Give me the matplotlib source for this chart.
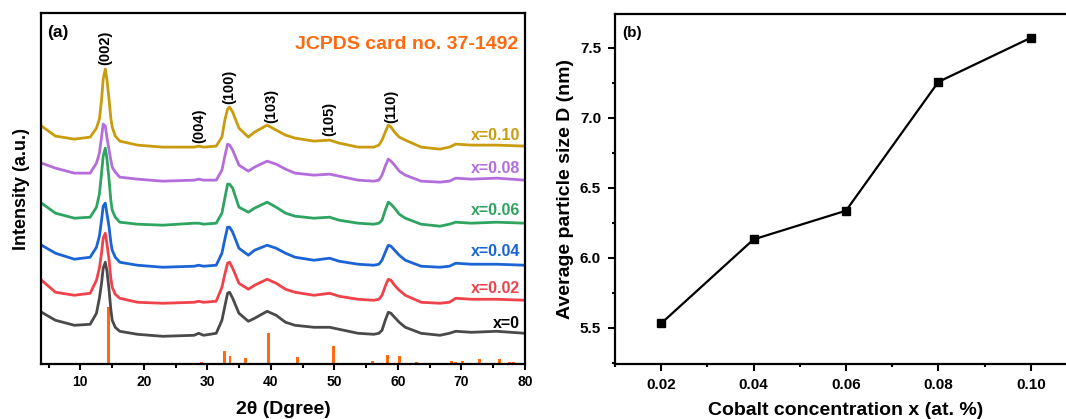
import matplotlib
matplotlib.use('Agg')
import matplotlib.pyplot as plt
from matplotlib.ticker import MultipleLocator, NullLocator, FormatStrFormatter

plt.rcParams['font.family'] = ['Liberation Sans', 'DejaVu Sans']
plt.rcParams['font.weight'] = 'bold'

# ---------- (a) XRD patterns, stacked (a.u.) ----------
two_theta = [3.9, 6.09, 9.07, 11.55, 12.54, 13.0, 13.34, 13.6, 13.93, 14.2,
             14.53, 14.8, 15.02, 15.5, 16.21, 18.99, 22.96, 27.92, 28.62, 29.41,
             31.39, 32.29, 32.75, 33.18, 33.5, 33.98, 34.97, 36.45, 37.43, 39.41,
             40.82, 42.31, 43.79, 46.77, 49.25, 50.74, 53.72, 56.2, 57.0, 57.49,
             58.0, 58.48, 58.9, 59.47, 60.2, 61.16, 63.64, 66.61, 68.1, 69.09,
             71.57, 75.54, 80]

I_x010 = [238, 228, 225, 227, 236, 245, 264, 285, 295, 284,
          264, 246, 237, 228, 223, 219, 217, 217, 218, 217,
          218, 227, 244, 255, 257, 252, 236, 227, 232, 239,
          234, 229, 226, 223, 224, 221, 217, 217, 219, 224,
          232, 239, 237, 232, 227, 224, 217, 215, 217, 220,
          219, 219, 218]
I_x008 = [201, 196, 191, 191, 201, 211, 227, 240, 238, 226,
          214, 204, 197, 192, 187, 185, 183, 184, 185, 184,
          184, 194, 208, 220, 219, 214, 199, 193, 197, 203,
          200, 195, 191, 189, 190, 188, 184, 183, 184, 189,
          198, 205, 203, 199, 193, 189, 183, 182, 183, 186,
          185, 186, 184]
I_x006 = [161, 151, 146, 147, 157, 170, 191, 208, 216, 205,
          184, 164, 154, 147, 142, 140, 139, 141, 141, 140,
          141, 151, 166, 180, 180, 176, 157, 152, 156, 162,
          157, 151, 148, 146, 147, 144, 141, 140, 141, 144,
          154, 162, 160, 156, 150, 146, 140, 138, 140, 142,
          141, 142, 141]
I_x004 = [119, 111, 105, 107, 117, 128, 144, 158, 161, 150,
          137, 122, 114, 107, 102, 99, 97, 98, 99, 98,
          99, 111, 125, 137, 137, 132, 116, 109, 114, 119,
          116, 111, 107, 104, 106, 103, 100, 99, 100, 104,
          112, 119, 118, 114, 109, 104, 98, 97, 98, 101,
          100, 100, 99]
I_x002 = [84, 72, 69, 71, 84, 96, 111, 126, 131, 120,
          104, 86, 77, 70, 66, 62, 61, 62, 63, 62,
          63, 77, 90, 101, 102, 96, 81, 75, 79, 85,
          81, 75, 72, 69, 71, 68, 65, 64, 65, 69,
          78, 85, 84, 79, 74, 69, 62, 61, 62, 66,
          65, 65, 64]
I_x000 = [52, 44, 39, 40, 51, 66, 81, 96, 102, 93,
          74, 55, 44, 37, 33, 30, 28, 29, 31, 29,
          31, 44, 58, 71, 72, 66, 51, 43, 46, 53,
          49, 42, 39, 37, 37, 35, 31, 30, 31, 34,
          44, 52, 51, 47, 42, 37, 31, 29, 31, 33,
          32, 33, 31]

series_labels = ['x=0.10', 'x=0.08', 'x=0.06', 'x=0.04', 'x=0.02', 'x=0']
series_colors = ['#C99C0E', '#B46EDC', '#2EA460', '#1A64D6', '#F0424A', '#4A4A4A']
label_colors = ['#C99C0E', '#B46EDC', '#2EA460', '#1A64D6', '#F0424A', '#000000']
label_y = [229, 196, 154, 113, 76, 41]

# JCPDS card no. 37-1492 reference lines
ref_pos = [14.41, 29.06, 32.68, 33.57, 35.94, 39.56, 44.17, 49.84, 56.05, 58.35,
           60.19, 62.87, 66.54, 68.49, 69.12, 70.16, 72.83, 75.98, 77.56, 78.19]
ref_int = [57, 2.3, 13.7, 8.3, 6.7, 31, 7.7, 18.3, 3.3, 9.3,
           8.3, 2.3, 1.7, 3, 2.3, 3.7, 5, 5, 2.3, 2.3]

hkl_labels = ['(002)', '(004)', '(100)', '(103)', '(105)', '(110)']
hkl_pos = [13.89, 28.69, 33.42, 39.98, 49.17, 58.88]
hkl_y = [316, 238, 277, 258, 245, 258]

# ---------- (b) particle size ----------
cobalt_x = [0.02, 0.04, 0.06, 0.08, 0.10]
size_D = [5.53, 6.13, 6.335, 7.255, 7.57]

fig = plt.figure(figsize=(10.66, 4.19), dpi=100)
ax1 = fig.add_axes([0.0387, 0.1305, 0.4538, 0.8385])
ax2 = fig.add_axes([0.5769, 0.1313, 0.4334, 0.8353])

curves = [I_x010, I_x008, I_x006, I_x004, I_x002, I_x000]
for ys, c in zip(curves, series_colors):
    ax1.plot(two_theta, ys, color=c, lw=2.0, solid_joinstyle='round')
for lab, c, yy in zip(series_labels, label_colors, label_y):
    ax1.text(79.2, yy, lab, color=c, fontsize=11.5, fontweight='bold',
             ha='right', va='center')

ax1.bar(ref_pos, ref_int, width=0.45, color='#FF6A10', bottom=0)

for lab, xx, yy in zip(hkl_labels, hkl_pos, hkl_y):
    ax1.text(xx, yy, lab, rotation=90, fontsize=10.5, fontweight='bold',
             ha='center', va='center')

ax1.text(0.012, 0.965, '(a)', transform=ax1.transAxes, fontsize=12.5,
         fontweight='bold', ha='left', va='top')
ax1.text(0.985, 0.91, 'JCPDS card no. 37-1492', transform=ax1.transAxes,
         fontsize=14, fontweight='bold', color='#FF6A10', ha='right', va='center')

ax1.set_xlim(3.85, 80)
ax1.set_ylim(0, 351)
ax1.xaxis.set_major_locator(MultipleLocator(10))
ax1.xaxis.set_minor_locator(MultipleLocator(5))
ax1.yaxis.set_major_locator(NullLocator())
ax1.tick_params(axis='x', which='major', direction='out', length=4, width=1.5,
                labelsize=10, pad=4)
ax1.tick_params(axis='x', which='minor', direction='out', length=3, width=1.5)
ax1.set_xlabel('2θ (Dgree)', fontsize=14, fontweight='bold', labelpad=8)
ax1.set_ylabel('Intensity (a.u.)', fontsize=13, fontweight='bold', labelpad=8)
for s in ax1.spines.values():
    s.set_linewidth(1.6)

ax2.plot(cobalt_x, size_D, color='black', lw=1.6, marker='s', markersize=6)
ax2.set_xlim(0.01, 0.11)
ax2.set_ylim(5.24, 7.74)
ax2.xaxis.set_major_locator(MultipleLocator(0.02))
ax2.xaxis.set_minor_locator(MultipleLocator(0.01))
ax2.yaxis.set_major_locator(MultipleLocator(0.5))
ax2.yaxis.set_minor_locator(MultipleLocator(0.25))
ax2.xaxis.set_major_formatter(FormatStrFormatter('%.2f'))
ax2.yaxis.set_major_formatter(FormatStrFormatter('%.1f'))
ax2.tick_params(which='major', direction='out', length=5, width=1.5,
                labelsize=11, pad=5)
ax2.tick_params(which='minor', direction='out', length=2.5, width=1.5)
ax2.set_xlabel('Cobalt concentration x (at. %)', fontsize=14,
               fontweight='bold', labelpad=7)
ax2.set_ylabel('Average particle size D (nm)', fontsize=14,
               fontweight='bold', labelpad=4)
ax2.text(0.015, 0.965, '(b)', transform=ax2.transAxes, fontsize=11,
         fontweight='bold', ha='left', va='top')
for s in ax2.spines.values():
    s.set_linewidth(1.6)

fig.savefig('out.png', dpi=100)
